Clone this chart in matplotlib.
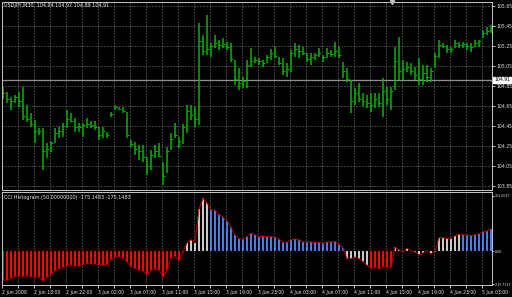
"""USDJPY M30 bar chart with a CCI histogram sub-window, MetaTrader style."""

import matplotlib

matplotlib.use("Agg")

import matplotlib.pyplot as plt
import numpy as np

# --- data -------------------------------------------------------------------
highs = [
    104.84, 104.79, 104.74, 104.76, 104.79, 104.84, 104.66, 104.58, 104.51, 104.43,
    104.43, 104.28, 104.30, 104.43, 104.44, 104.48, 104.61, 104.58, 104.53, 104.48,
    104.48, 104.53, 104.50, 104.50, 104.44, 104.44, 104.39, 104.59, 104.66, 104.64,
    104.64, 104.59, 104.31, 104.29, 104.26, 104.26, 104.14, 104.21, 104.26, 104.28,
    104.09, 104.24, 104.38, 104.48, 104.34, 104.47, 104.66, 104.66, 104.64, 105.48,
    105.36, 105.56, 105.28, 105.36, 105.31, 105.33, 105.29, 105.28, 105.11, 105.03,
    104.94, 105.11, 105.23, 105.14, 105.13, 105.11, 105.16, 105.22, 105.24, 105.14,
    105.13, 105.08, 105.21, 105.28, 105.26, 105.24, 105.18, 105.18, 105.18, 105.23,
    105.16, 105.23, 105.21, 105.29, 105.24, 105.09, 105.03, 104.91, 104.83, 104.88,
    104.78, 104.76, 104.78, 104.78, 104.78, 104.93, 104.84, 104.84, 105.24, 105.34,
    105.11, 105.09, 105.08, 105.04, 105.13, 105.06, 105.06, 105.03, 105.18, 105.31,
    105.28, 105.26, 105.24, 105.31, 105.29, 105.29, 105.28, 105.28, 105.31, 105.31,
    105.41, 105.44, 105.46,
]
lows = [
    104.72, 104.68, 104.61, 104.68, 104.64, 104.51, 104.49, 104.44, 104.28, 104.36,
    104.01, 104.13, 104.19, 104.28, 104.33, 104.34, 104.43, 104.49, 104.39, 104.39,
    104.34, 104.43, 104.43, 104.41, 104.31, 104.33, 104.33, 104.54, 104.61, 104.61,
    104.58, 104.33, 104.24, 104.16, 104.11, 104.09, 103.96, 104.01, 104.13, 104.14,
    103.86, 103.98, 104.21, 104.33, 104.23, 104.27, 104.38, 104.51, 104.44, 104.46,
    105.16, 105.16, 105.14, 105.23, 105.21, 105.23, 105.21, 105.09, 104.86, 104.81,
    104.83, 104.83, 105.04, 105.08, 105.06, 105.04, 105.08, 105.11, 105.13, 105.06,
    104.96, 104.94, 104.99, 105.14, 105.13, 105.16, 105.09, 105.06, 105.11, 105.14,
    105.09, 105.13, 105.14, 105.14, 105.13, 104.93, 104.89, 104.58, 104.66, 104.69,
    104.64, 104.63, 104.59, 104.63, 104.64, 104.54, 104.66, 104.61, 104.81, 104.91,
    104.91, 104.99, 104.96, 104.91, 104.86, 104.86, 104.89, 104.89, 105.03, 105.13,
    105.23, 105.18, 105.18, 105.23, 105.23, 105.23, 105.21, 105.19, 105.24, 105.24,
    105.33, 105.36, 105.38,
]
closes = [
    104.78, 104.72, 104.70, 104.74, 104.70, 104.55, 104.52, 104.47, 104.40, 104.40,
    104.20, 104.22, 104.28, 104.38, 104.40, 104.45, 104.52, 104.50, 104.44, 104.44,
    104.46, 104.47, 104.46, 104.44, 104.36, 104.40, 104.36, 104.57, 104.64, 104.62,
    104.60, 104.36, 104.27, 104.22, 104.20, 104.14, 104.05, 104.16, 104.20, 104.15,
    103.95, 104.20, 104.32, 104.36, 104.30, 104.44, 104.60, 104.56, 104.52, 105.30,
    105.20, 105.22, 105.25, 105.28, 105.26, 105.27, 105.24, 105.12, 104.92, 104.88,
    104.90, 105.06, 105.10, 105.11, 105.10, 105.08, 105.14, 105.18, 105.15, 105.08,
    105.00, 105.02, 105.18, 105.22, 105.20, 105.18, 105.12, 105.14, 105.16, 105.18,
    105.14, 105.18, 105.17, 105.20, 105.16, 105.00, 104.92, 104.70, 104.78, 104.72,
    104.70, 104.68, 104.66, 104.72, 104.68, 104.80, 104.72, 104.80, 105.10, 105.00,
    105.02, 105.04, 105.00, 104.96, 104.92, 104.98, 104.94, 105.00, 105.15, 105.26,
    105.25, 105.22, 105.22, 105.28, 105.26, 105.27, 105.25, 105.24, 105.28, 105.30,
    105.38, 105.40, 105.44,
]
cci = [
    -190, -190, -178, -165, -162, -165, -160, -168, -172, -170,
    -195, -172, -150, -130, -115, -105, -95, -92, -96, -98,
    -88, -80, -82, -85, -88, -92, -90, -55, -38, -36,
    -45, -70, -100, -112, -125, -130, -155, -125, -118, -122,
    -172, -125, -48, -35, -62, -8, 56, 75, 56, 277,
    346, 315, 270, 268, 240, 222, 200, 158, 107, 82,
    78, 95, 118, 107, 95, 95, 95, 95, 92, 78,
    57, 57, 75, 80, 75, 60, 60, 60, 57, 57,
    52, 60, 60, 63, 44, 19, -50, -50, -40, -50,
    -69, -94, -113, -105, -117, -100, -105, -106, 25, 8,
    -6, 19, 3, -6, -25, -12, 3, -19, -3, 88,
    88, 82, 82, 100, 110, 107, 105, 101, 108, 112,
    126, 132, 145,
]

price_levels = [105.65, 105.45, 105.25, 105.05, 104.85, 104.65,
                104.45, 104.25, 104.05, 103.85]
time_labels = ["2 Jun 2008", "2 Jun 18:00", "2 Jun 22:00", "3 Jun 02:00",
               "3 Jun 07:00", "3 Jun 11:00", "3 Jun 15:00", "3 Jun 19:00",
               "3 Jun 23:00", "4 Jun 03:00", "4 Jun 07:00", "4 Jun 11:00",
               "4 Jun 15:00", "4 Jun 19:00", "4 Jun 23:00", "5 Jun 03:00"]
bid = 104.91
cci_max, cci_min = 361.0037, -215.7113
title_main = "USDJPY,M30  104.94 104.97 104.89 104.91"
title_cci = "CCI Histogram (50.00000000) -175.1483 -175.1483"

# --- style ------------------------------------------------------------------
W, H = 512, 297
BG = "black"
FRAME = "#c0c0c0"
GRID = "#7a7a7a"
TXT = "#e8e8e8"
BAR = "#00b800"
FS = 3.3
PX = 72 / 100  # one pixel in points


def _box(x0, y0, x1, y1):
    """Pixel box (top-left origin) -> figure fraction rect."""
    return [x0 / W, 1 - y1 / H, (x1 - x0) / W, (y1 - y0) / H]


def _frame(ax):
    ax.set_facecolor(BG)
    for s in ax.spines.values():
        s.set_color(FRAME)
        s.set_linewidth(PX)
    ax.set_axisbelow(True)


def _hist_colors(values, grey_run=6):
    """Grey for the first bars after a zero cross, then red/blue."""
    out = []
    run, prev = grey_run, np.sign(values[0])
    for v in values:
        s = np.sign(v)
        run = run + 1 if s == prev else 1
        prev = s
        if run <= grey_run:
            out.append("#c8c8c8")
        else:
            out.append("#4a78e8" if v > 0 else "#ff0000")
    return out


n = len(cci)
idx = np.arange(n)
xlim = (-0.25, n - 0.75)
grid_x = np.arange(xlim[0], xlim[1], 4)[1:]
label_x = np.arange(xlim[0], xlim[1], 8)[: len(time_labels)]

fig = plt.figure(figsize=(W / 100, H / 100), dpi=100, facecolor=BG)

# --- price window -----------------------------------------------------------
ax = fig.add_axes(_box(2, 2, 492, 190))
_frame(ax)
ax.set_xlim(*xlim)
ax.set_ylim(103.81, 105.69)
ax.set_xticks(grid_x)
ax.set_yticks(price_levels)
ax.set_yticklabels([f"{p:.2f}" for p in price_levels])
ax.yaxis.tick_right()
ax.tick_params(axis="x", length=0, labelbottom=False)
ax.tick_params(axis="y", colors=FRAME, labelcolor=TXT, labelsize=FS,
               length=2, width=PX, pad=1)
ax.grid(True, color=GRID, linestyle=(0, (1, 2)), linewidth=PX)

ax.axhline(bid, color="#909090", linewidth=1.3 * PX)
ax.vlines(idx, lows, highs, color=BAR, linewidth=1.5 * PX)
ax.hlines(closes, idx, idx + 0.4, color=BAR, linewidth=PX)
ax.text(1.004, bid, f"{bid:.2f}", transform=ax.get_yaxis_transform(),
        fontsize=FS, color="black", va="center", ha="left", clip_on=False,
        bbox=dict(boxstyle="square,pad=0.15", fc="white", ec="white"))
ax.plot([97.25], [1.0], marker="v", markersize=3, color=FRAME,
        transform=ax.get_xaxis_transform(), clip_on=False)
fig.text(4 / W, 1 - 6 / H, title_main, fontsize=FS + 0.2, color=TXT,
         va="center")

# --- CCI window -------------------------------------------------------------
ic = fig.add_axes(_box(2, 192, 492, 285))
_frame(ic)
ic.set_xlim(*xlim)
ic.set_ylim(cci_min - 6.5, cci_max + 26)
ic.set_yticks([cci_min, 0, cci_max])
ic.set_yticklabels([f"{cci_min:.4f}", "0.00", f"{cci_max:.4f}"])
ic.yaxis.tick_right()
ic.tick_params(axis="y", colors=FRAME, labelcolor=TXT, labelsize=2.3,
               length=1.5, width=PX, pad=0.5)
ic.set_xticks(label_x)
ic.set_xticklabels(time_labels, ha="left")
ic.set_xticks(grid_x, minor=True)
ic.tick_params(axis="x", which="both", colors=FRAME, labelcolor=TXT,
               labelsize=FS, length=2, width=PX, pad=1.5)
ic.grid(True, axis="x", which="both", color=GRID,
        linestyle=(0, (1, 2)), linewidth=PX)

ic.bar(idx, cci, width=0.55, color=_hist_colors(cci), linewidth=0)
ic.plot(idx, cci, color="#b00000", linewidth=PX)
fig.text(4 / W, 1 - 197 / H, title_cci, fontsize=FS + 0.2, color=TXT,
         va="center")

fig.savefig("out.png", dpi=100, facecolor=BG)
